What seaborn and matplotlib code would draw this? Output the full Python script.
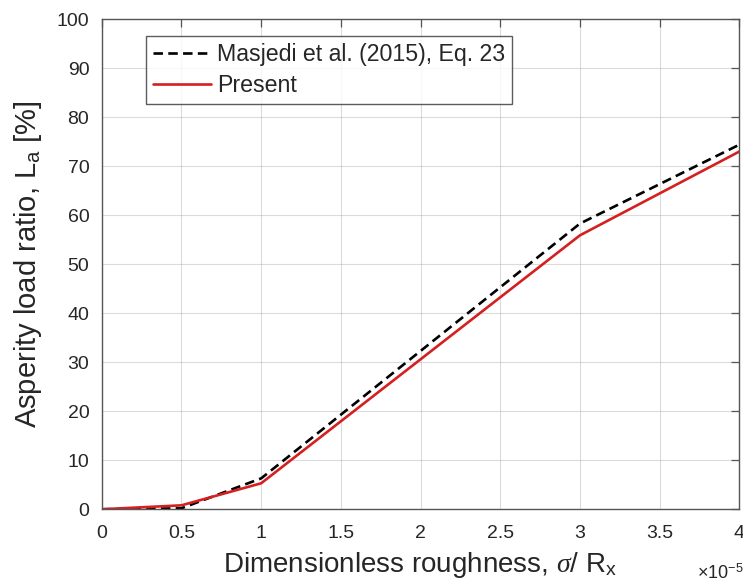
import matplotlib
matplotlib.use("Agg")
import matplotlib.pyplot as plt
import seaborn as sns
import pandas as pd

# Dimensionless roughness sigma/Rx (in units of 1e-5)
roughness = [0.0, 0.5, 1.0, 3.0, 4.0]
# Asperity load ratio L_a [%]
masjedi_la = [0.0, 0.2, 6.3, 58.3, 74.4]
present_la = [0.0, 0.8, 5.3, 55.9, 73.0]

label_masjedi = "Masjedi et al. (2015), Eq. 23"
label_present = "Present"

df = pd.DataFrame({
    "x": roughness * 2,
    "La": masjedi_la + present_la,
    "model": [label_masjedi] * len(roughness) + [label_present] * len(roughness),
})

sns.set_style("white")
plt.rcParams["font.family"] = ["Liberation Sans", "DejaVu Sans"]
plt.rcParams["mathtext.fontset"] = "custom"
plt.rcParams["mathtext.rm"] = "Liberation Sans"
plt.rcParams["mathtext.it"] = "Liberation Serif:italic"

fig = plt.figure(figsize=(7.43, 5.84), dpi=100)
ax = fig.add_axes([0.137, 0.128, 0.858, 0.839])

red = "#d42020"
dash = (3.6, 2.0)
sns.lineplot(
    data=df, x="x", y="La", hue="model", style="model",
    palette={label_masjedi: "black", label_present: red},
    dashes={label_masjedi: dash, label_present: ""},
    linewidth=1.9, ax=ax, legend=False,
)

ax.set_xlim(0, 4)
ax.set_ylim(0, 100)
ax.set_xticks([0, 0.5, 1, 1.5, 2, 2.5, 3, 3.5, 4])
ax.set_xticklabels(["0", "0.5", "1", "1.5", "2", "2.5", "3", "3.5", "4"])
ax.set_yticks(range(0, 101, 10))
ax.grid(True, color="#b0b0b0", alpha=0.45, linewidth=0.8)

edge = "#262626"
for s in ax.spines.values():
    s.set_color("#555555")
    s.set_linewidth(1.0)
ax.tick_params(axis="both", direction="in", length=6, width=0.9, color="#555555",
               top=True, right=True, labelsize=14, labelcolor=edge)
ax.tick_params(axis="x", pad=11)
ax.tick_params(axis="y", pad=9)

ax.set_xlabel(r"Dimensionless roughness, $\mathit{\sigma}$/ R$_{\mathrm{x}}$", fontsize=20,
              color=edge, labelpad=6)
ax.set_ylabel(r"Asperity load ratio, L$_{\mathrm{a}}$ [%]", fontsize=21, color=edge,
              labelpad=9)
ax.text(1.006, -0.13, r"$\times$10$^{-5}$", transform=ax.transAxes, ha="right",
        va="center", fontsize=13, color=edge)

handles = [
    plt.Line2D([], [], color="black", linewidth=1.9, dashes=dash),
    plt.Line2D([], [], color=red, linewidth=1.9),
]
leg = ax.legend(handles, [label_masjedi, label_present], loc="upper left",
                bbox_to_anchor=(0.07, 0.965), fontsize=16.7, frameon=True,
                fancybox=False, handlelength=2.5, handletextpad=0.25,
                borderpad=0.3, labelspacing=0.32, borderaxespad=0)
leg.get_frame().set_edgecolor("#333333")
leg.get_frame().set_linewidth(1.0)
for t in leg.get_texts():
    t.set_color(edge)

fig.savefig("out.png", dpi=100, facecolor="white")
